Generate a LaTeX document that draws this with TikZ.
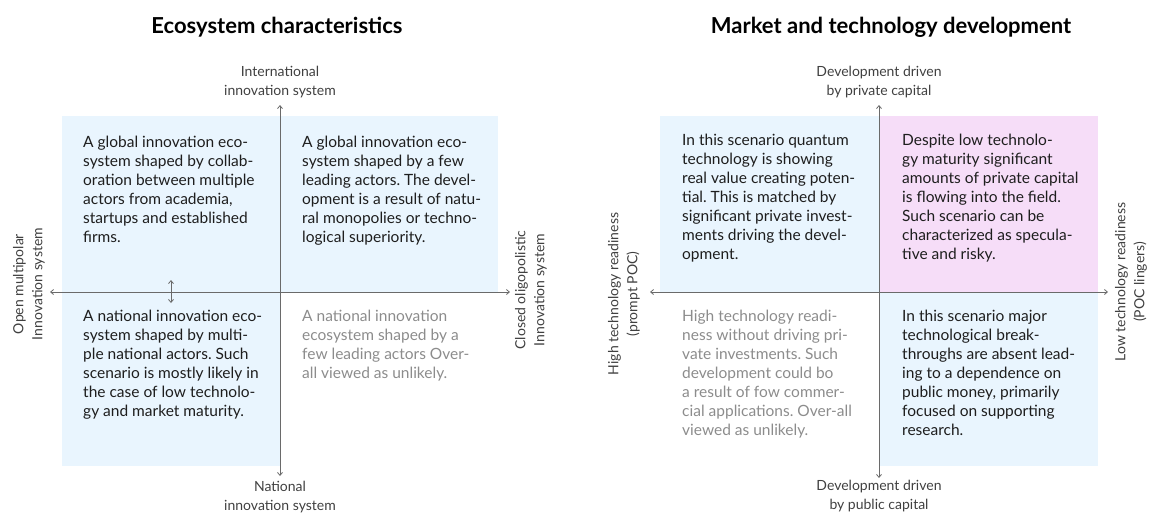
\documentclass[tikz,border=0pt]{standalone}
\usepackage{fontspec}
\setmainfont{Lato}
\usetikzlibrary{arrows.meta}
\frenchspacing

\definecolor{quadblue}{HTML}{E9F5FE}
\definecolor{quadpink}{HTML}{F6DDF8}
\definecolor{axisgray}{HTML}{6A6A6A}
\definecolor{fadedtext}{HTML}{8C8C8C}
\definecolor{bodytext}{HTML}{1E1E1E}

\begin{document}
\begin{tikzpicture}[
	x=1pt,y=-1pt,
	title/.style={font=\bfseries\fontsize{22}{26}\selectfont,text=black,inner sep=0},
	axislabel/.style={font=\fontsize{14}{19}\selectfont,text=bodytext!85,align=center,inner sep=0},
	body/.style={font=\fontsize{15.5}{19}\selectfont,text=bodytext,align=left,inner sep=0,anchor=north west},
	faded/.style={body,text=fadedtext},
	axis/.style={draw=axisgray,line width=0.8pt,arrows={Straight Barb[length=3pt,width=5pt]-Straight Barb[length=3pt,width=5pt]}}]
	\useasboundingbox (0,0) rectangle (1149,515);
	% ecosystem characteristics
	\fill[quadblue] (62,116) rectangle (498,292);
	\fill[quadblue] (62,292) rectangle (280,466);
	\node[title] (ecoTitle) at (277,27) {Ecosystem characteristics};
	\coordinate (ecoN) at (280,105);
	\coordinate (ecoS) at (280,476);
	\coordinate (ecoW) at (50,292);
	\coordinate (ecoE) at (510,292);
	\coordinate (ecoUp) at (171,280);
	\coordinate (ecoDown) at (171,303);
	\draw[axis] (ecoS) -- (ecoN);
	\draw[axis] (ecoW) -- (ecoE);
	\draw[axis] (ecoDown) -- (ecoUp);
	\node[axislabel] (ecoTop) at (280,82) {International\\innovation system};
	\node[axislabel] (ecoBottom) at (280,497) {National\\innovation system};
	\node[axislabel,rotate=90] (ecoLeft) at (29,284) {Open multipolar\\Innovation system};
	\node[axislabel,rotate=90] (ecoRight) at (531,290) {Closed oligopolistic\\Innovation system};
	\node[body] (ecoUL) at (83,136) {A global innovation eco-\\system shaped by collab-\\oration between multiple\\actors from academia,\\startups and established\\firms.};
	\node[body] (ecoUR) at (302,136) {A global innovation eco-\\system shaped by a few\\leading actors. The devel-\\opment is a result of natu-\\ral monopolies or techno-\\logical superiority.};
	\node[body] (ecoLL) at (83,310) {A national innovation eco-\\system shaped by multi-\\ple national actors. Such\\scenario is mostly likely in\\the case of low technolo-\\gy and market maturity.};
	\node[faded] (ecoLR) at (302,310) {A national innovation\\ecosystem shaped by a\\few leading actors Over-\\all viewed as unlikely.};
	% market and technology development
	\fill[quadblue] (660,116) rectangle (879,292);
	\fill[quadpink] (879,116) rectangle (1098,292);
	\fill[quadblue] (879,292) rectangle (1098,466);
	\node[title] (mktTitle) at (891,27) {Market and technology development};
	\coordinate (mktN) at (879,105);
	\coordinate (mktS) at (879,478);
	\coordinate (mktW) at (650,292);
	\coordinate (mktE) at (1108,292);
	\draw[axis] (mktS) -- (mktN);
	\draw[axis] (mktW) -- (mktE);
	\node[axislabel] (mktTop) at (879,82) {Development driven\\by private capital};
	\node[axislabel] (mktBottom) at (879,496) {Development driven\\by public capital};
	\node[axislabel,rotate=90] (mktLeft) at (624,294) {High technology readiness\\(prompt POC)};
	\node[axislabel,rotate=90] (mktRight) at (1131,282) {Low technology readiness\\(POC lingers)};
	\node[body] (mktUL) at (682,134) {In this scenario quantum\\technology is showing\\real value creating poten-\\tial. This is matched by\\significant private invest-\\ments driving the devel-\\opment.};
	\node[body] (mktUR) at (902,134) {Despite low technolo-\\gy maturity significant\\amounts of private capital\\is flowing into the field.\\Such scenario can be\\characterized as specula-\\tive and risky.};
	\node[faded] (mktLL) at (682,310) {High technology readi-\\ness without driving pri-\\vate investments. Such\\development could bo\\a result of fow commer-\\cial applications. Over-all\\viewed as unlikely.};
	\node[body] (mktLR) at (902,310) {In this scenario major\\technological break-\\throughs are absent lead-\\ing to a dependence on\\public money, primarily\\focused on supporting\\research.};
\end{tikzpicture}
\end{document}
